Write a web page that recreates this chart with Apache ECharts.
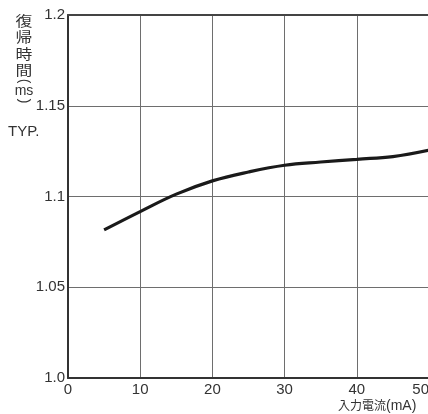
<!DOCTYPE html>
<html>
<head>
<meta charset="utf-8">
<script src="https://cdn.jsdelivr.net/npm/echarts@6/dist/echarts.min.js"></script>
<style>
  html, body { margin: 0; padding: 0; background: #fff; }
  #chart { width: 428px; height: 414px; }
</style>
</head>
<body>
<div id="chart"></div>
<script>
// Input current (mA) vs. release time (ms), typical curve
const currentMA = [5, 10, 15, 20, 25, 30, 35, 40, 45, 50];
const releaseMs = [1.0816, 1.0917, 1.1013, 1.1086, 1.1135, 1.1172, 1.119, 1.1205, 1.122, 1.1255];
const xTicks = [0, 10, 20, 30, 40, 50];
const yTickLabels = { '1': '1.0', '1.05': '1.05', '1.1': '1.1', '1.15': '1.15', '1.2': '1.2' };

const numFont = '"Liberation Sans", Arial, sans-serif';
const cjkFont = '"Noto Sans CJK JP", "Noto Sans CJK SC", sans-serif';

const chart = echarts.init(document.getElementById('chart'), null, { renderer: 'canvas' });
chart.setOption({
  animation: false,
  backgroundColor: '#fff',
  grid: { left: 68, top: 15, width: 361, height: 363, containLabel: false, outerBoundsMode: 'none' },
  xAxis: [{
    type: 'value',
    min: xTicks[0],
    max: xTicks[xTicks.length - 1],
    interval: 10,
    axisLine: { show: true, lineStyle: { color: '#333', width: 2 } },
    axisTick: { show: false },
    splitLine: { show: true, lineStyle: { color: '#6e6e6e', width: 1 } },
    axisLabel: {
      margin: 4,
      color: '#333',
      fontSize: 15,
      fontFamily: numFont,
      showMaxLabel: true,
      alignMaxLabel: 'right',
      hideOverlap: false
    }
  }, {
    type: 'value',
    position: 'top',
    min: xTicks[0],
    max: xTicks[xTicks.length - 1],
    axisLine: { show: true, onZero: false, lineStyle: { color: '#444', width: 2 } },
    axisTick: { show: false },
    axisLabel: { show: false },
    splitLine: { show: false }
  }],
  yAxis: {
    type: 'value',
    min: 1.0,
    max: 1.2,
    interval: 0.05,
    axisLine: { show: true, lineStyle: { color: '#333', width: 2 } },
    axisTick: { show: false },
    splitLine: { show: true, lineStyle: { color: '#6e6e6e', width: 1 } },
    axisLabel: {
      margin: 3,
      color: '#333',
      fontSize: 15,
      fontFamily: numFont,
      formatter: v => yTickLabels[String(+v.toFixed(2))] || ''
    }
  },
  series: [{
    type: 'line',
    data: currentMA.map((x, i) => [x, releaseMs[i]]),
    smooth: 0.4,
    symbol: 'none',
    clip: true,
    lineStyle: { color: '#1a1a1a', width: 3.2 }
  }],
  graphic: [
    {
      // vertical y-axis title
      type: 'text',
      x: 24, y: 12,
      scaleX: 1.2,
      style: {
        text: '復\n帰\n時\n間',
        font: '14px ' + cjkFont,
        lineHeight: 16.5,
        align: 'center',
        verticalAlign: 'top',
        fill: '#333'
      }
    },
    {
      type: 'text',
      x: 24, y: 81,
      rotation: -Math.PI / 2,
      style: {
        text: '(',
        font: '14px ' + numFont,
        align: 'center',
        verticalAlign: 'middle',
        fill: '#333'
      }
    },
    {
      type: 'text',
      x: 24, y: 91,
      style: {
        text: 'ms',
        font: '14px ' + numFont,
        align: 'center',
        verticalAlign: 'middle',
        fill: '#333'
      }
    },
    {
      type: 'text',
      x: 24, y: 101,
      rotation: -Math.PI / 2,
      style: {
        text: ')',
        font: '14px ' + numFont,
        align: 'center',
        verticalAlign: 'middle',
        fill: '#333'
      }
    },
    {
      type: 'text',
      x: 8, y: 124,
      style: { text: 'TYP.', font: '15px ' + numFont, fill: '#333', verticalAlign: 'top' }
    },
    {
      // x-axis title
      type: 'text',
      x: 338, y: 399,
      style: { text: '入力電流', font: '12px ' + cjkFont, fill: '#333', verticalAlign: 'top' }
    },
    {
      type: 'text',
      x: 386, y: 399,
      style: { text: '(mA)', font: '14px ' + numFont, fill: '#333', verticalAlign: 'top' }
    }
  ]
});
</script>
</body>
</html>
